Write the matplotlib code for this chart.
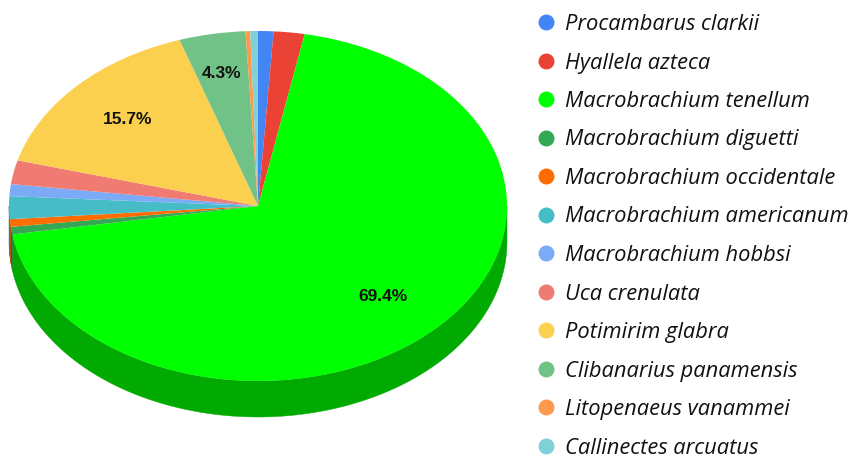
import numpy as np
import matplotlib
matplotlib.use("Agg")
import matplotlib.pyplot as plt
from matplotlib.lines import Line2D
from matplotlib.colors import to_rgb

species = ["Procambarus clarkii", "Hyallela azteca", "Macrobrachium tenellum",
           "Macrobrachium diguetti", "Macrobrachium occidentale", "Macrobrachium americanum",
           "Macrobrachium hobbsi", "Uca crenulata", "Potimirim glabra",
           "Clibanarius panamensis", "Litopenaeus vanammei", "Callinectes arcuatus"]
shares = [1.0, 2.0, 69.4, 0.7, 0.7, 2.1, 1.1, 2.2, 15.7, 4.3, 0.3, 0.5]
colors = ["#4285F4", "#EA4335", "#00FF00", "#34A853", "#FF6D01", "#46BDC6",
          "#7BAAF7", "#F07B72", "#FCD04F", "#71C287", "#FF994D", "#7ED1D7"]

W, H = 849, 458
CX, CY, RX, RY, DEPTH = 258, 206, 249, 175, 36

fig = plt.figure(figsize=(W / 100, H / 100), dpi=100)
ax = fig.add_axes([0, 0, 1, 1])
wedges, texts, autotexts = ax.pie(
    shares, colors=colors, startangle=90, counterclock=False, radius=1,
    autopct=lambda p: f"{p:.1f}%" if p > 3 else "", pctdistance=0.72,
    wedgeprops=dict(linewidth=0),
    textprops=dict(family="Liberation Sans", fontweight="bold", fontsize=12.5, color="#111111"),
)
ax.set_aspect("auto")
ax.set_xlim((0 - CX) / RX, (W - CX) / RX)
ax.set_ylim((CY - H) / RY, CY / RY)
ax.axis("off")

# extruded rim: front half of each slice, dropped by the pie's depth
d = DEPTH / RY
edges = np.cumsum([0] + shares) / sum(shares) * 360
for a0, a1, c in zip(edges[:-1], edges[1:], colors):
    lo, hi = max(a0, 90), min(a1, 270)
    if hi <= lo:
        continue
    t = np.radians(np.linspace(lo, hi, 200))
    x, y = np.sin(t), np.cos(t)
    dark = tuple(v * 0.667 for v in to_rgb(c))
    ax.fill(np.r_[x, x[::-1]], np.r_[y, y[::-1] - d], color=dark, lw=0.3, zorder=0.5)

for t in autotexts:
    if t.get_text().startswith("4.3"):
        t.set_position((t.get_position()[0] - 0.015, t.get_position()[1] + 0.05))

handles = [Line2D([], [], ls="", marker="o", ms=11.5, mfc=c, mec=c, mew=0) for c in colors]
leg = fig.legend(handles, species, loc="upper left", bbox_to_anchor=(537 / W, 1 - 14 / H),
                 bbox_transform=fig.transFigure, frameon=False, ncol=1,
                 prop=dict(family="Open Sans", style="italic", size=15.75),
                 labelspacing=0.8, handlelength=0.8, handletextpad=0.46,
                 borderpad=0, borderaxespad=0)
for t in leg.get_texts():
    t.set_color("#111111")

fig.savefig("out.png", dpi=100)
